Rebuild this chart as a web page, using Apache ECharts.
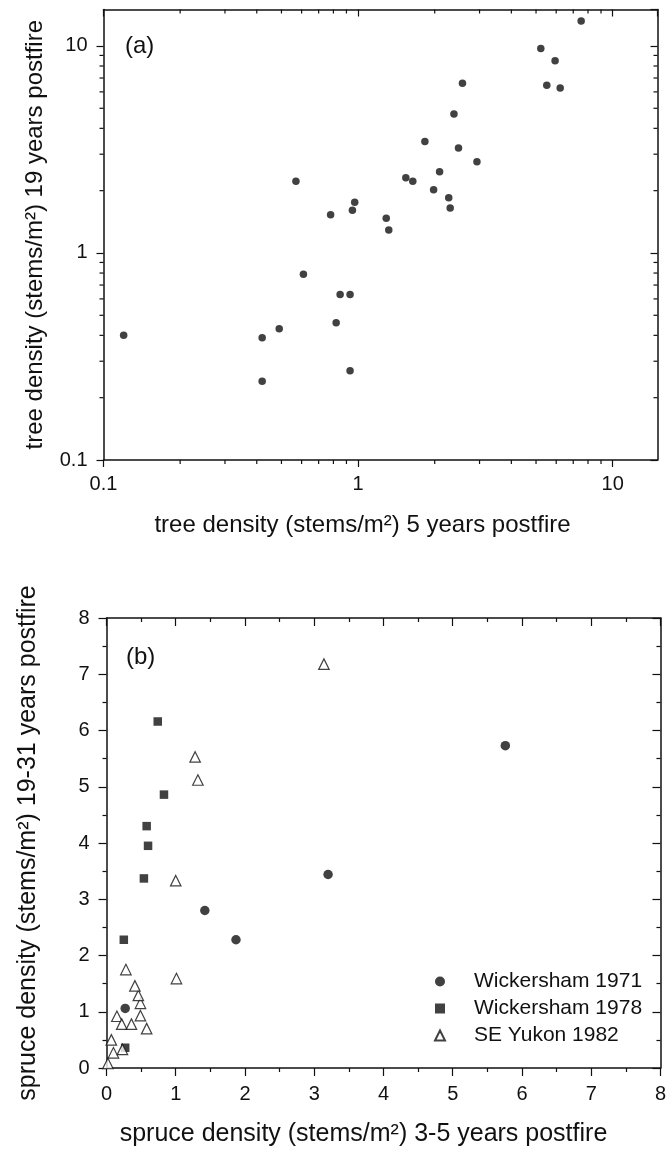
<!DOCTYPE html>
<html>
<head>
<meta charset="utf-8">
<script src="https://cdn.jsdelivr.net/npm/echarts@6/dist/echarts.min.js"></script>
<style>
  html, body { margin: 0; padding: 0; background: #fff; }
  #chart { width: 669px; height: 1154px; }
</style>
</head>
<body>
<div id="chart"></div>
<script>
// ---------- Panel (a): tree density, log-log ----------
const treeDensity5yr  = [0.12, 0.42, 0.42, 0.49, 0.57, 0.61, 0.78, 0.82, 0.85, 0.93, 0.93, 0.95, 0.97, 1.29, 1.32, 1.54, 1.64, 1.83, 1.98, 2.09, 2.27, 2.30, 2.38, 2.48, 2.57, 2.93, 5.22, 5.51, 5.94, 6.22, 7.52];
const treeDensity19yr = [0.40, 0.39, 0.24, 0.43, 2.22, 0.79, 1.53, 0.46, 0.63, 0.63, 0.27, 1.61, 1.76, 1.47, 1.29, 2.31, 2.22, 3.46, 2.02, 2.47, 1.85, 1.65, 4.69, 3.21, 6.60, 2.76, 9.71, 6.46, 8.49, 6.27, 13.2];
const logTickLabels = ['0.1', '1', '10'];
const logMinorTicks = [0.2, 0.3, 0.4, 0.5, 0.6, 0.7, 0.8, 0.9, 2, 3, 4, 5, 6, 7, 8, 9];

// ---------- Panel (b): spruce density, linear ----------
const wick1971X = [0.27, 1.42, 1.87, 3.20, 5.76];
const wick1971Y = [1.06, 2.80, 2.28, 3.44, 5.73];
const wick1978X = [0.27, 0.25, 0.54, 0.60, 0.58, 0.83, 0.74];
const wick1978Y = [0.36, 2.28, 3.37, 3.95, 4.30, 4.86, 6.16];
const yukon1982X = [0.02, 0.10, 0.23, 0.07, 0.15, 0.22, 0.36, 0.58, 0.49, 0.49, 0.46, 0.41, 0.28, 1.01, 1.00, 1.28, 1.32, 3.14];
const yukon1982Y = [0.08, 0.27, 0.33, 0.50, 0.92, 0.78, 0.78, 0.70, 0.93, 1.15, 1.29, 1.46, 1.75, 1.59, 3.33, 5.53, 5.12, 7.18];
const linTickLabels = ['0', '1', '2', '3', '4', '5', '6', '7', '8'];
const seriesNames = ['Wickersham 1971', 'Wickersham 1978', 'SE Yukon 1982'];

const FONT = 'Liberation Sans, Arial, Helvetica, sans-serif';
const INK = '#111';
const A_MIN = 0.1, A_MAX = 15;

const zip = (xs, ys) => xs.map((x, i) => [x, ys[i]]);

const gridA = { left: 103.5, top: 9.5, width: 554, height: 450.5 };
const gridB = { left: 106.5, top: 618, width: 560, height: 450 };

function logAxis(pos, gridIndex, show) {
  const isX = pos === 'bottom' || pos === 'top';
  return {
    type: 'log', logBase: 10, gridIndex, position: pos,
    min: A_MIN, max: A_MAX,
    axisLine: { show: true, onZero: false, lineStyle: { color: INK, width: 1.5 } },
    axisTick: { show: true, inside: (pos === 'top' || pos === 'right'), length: 7, lineStyle: { color: INK, width: 1.2 } },
    axisLabel: {
      show: show, fontFamily: FONT, fontSize: 20, color: INK,
      margin: isX ? 14 : 16, showMaxLabel: false,
      formatter: v => { const s = String(+v.toPrecision(3)); return logTickLabels.indexOf(s) >= 0 ? s : ''; }
    },
    splitLine: { show: false }
  };
}
function linAxis(pos, gridIndex, show) {
  const isX = pos === 'bottom' || pos === 'top';
  return {
    type: 'value', gridIndex, position: pos,
    min: 0, max: 8, interval: 1,
    axisLine: { show: true, onZero: false, lineStyle: { color: INK, width: 1.5 } },
    axisTick: { show: true, inside: (pos === 'top' || pos === 'right'), length: 8, lineStyle: { color: INK, width: 1.2 } },
    minorTick: { show: true, splitNumber: 2, length: 4, lineStyle: { color: INK, width: 1.2 } },
    axisLabel: {
      show: show, fontFamily: FONT, fontSize: 20, color: INK, margin: isX ? 16 : 17,
      formatter: v => linTickLabels[Math.round(v)] || ''
    },
    splitLine: { show: false }
  };
}

const nameStyleA = { fontFamily: FONT, fontSize: 24, color: INK };
const nameStyleB = { fontFamily: FONT, fontSize: 25, color: INK };

const xAxes = [
  Object.assign(logAxis('bottom', 0, true), { name: 'tree density (stems/m²) 5 years postfire', nameLocation: 'middle', nameGap: 53,
    nameTextStyle: Object.assign({ padding: [0, 36, 0, 0] }, nameStyleA) }),
  logAxis('top', 0, false),
  Object.assign(linAxis('bottom', 1, true), { name: 'spruce density (stems/m²) 3-5 years postfire', nameLocation: 'middle', nameGap: 54,
    nameTextStyle: Object.assign({ padding: [0, 40, 0, 0] }, nameStyleB) }),
  linAxis('top', 1, false)
];
const yAxes = [
  Object.assign(logAxis('left', 0, true), { name: 'tree density (stems/m²) 19 years postfire', nameLocation: 'middle', nameGap: 56, nameTextStyle: nameStyleA }),
  logAxis('right', 0, false),
  Object.assign(linAxis('left', 1, true), { name: 'spruce density (stems/m²) 19-31 years postfire', nameLocation: 'middle', nameGap: 66, nameTextStyle: nameStyleB }),
  linAxis('right', 1, false)
];

// minor ticks for the log panel (bottom=1, top=2, left=3, right=4)
const minorTickData = [];
[1, 2, 3, 4].forEach(side => logMinorTicks.forEach(v => minorTickData.push([v, side])));

const TL = 4;
const minorTickSeries = {
  type: 'custom', xAxisIndex: 0, yAxisIndex: 0, clip: false, silent: true, z: 5,
  data: minorTickData,
  renderItem: (params, api) => {
    const v = api.value(0), s = api.value(1);
    let p1, p2;
    if (s === 1) { const p = api.coord([v, A_MIN]); p1 = p; p2 = [p[0], p[1] + TL]; }
    else if (s === 2) { const p = api.coord([v, A_MAX]); p1 = p; p2 = [p[0], p[1] + TL]; }
    else if (s === 3) { const p = api.coord([A_MIN, v]); p1 = [p[0] - TL, p[1]]; p2 = p; }
    else { const p = api.coord([A_MAX, v]); p1 = [p[0] - TL, p[1]]; p2 = p; }
    return { type: 'line', shape: { x1: p1[0], y1: p1[1], x2: p2[0], y2: p2[1] }, style: { stroke: INK, lineWidth: 1.2 } };
  }
};

const option = {
  animation: false,
  backgroundColor: '#fff',
  grid: [gridA, gridB],
  xAxis: xAxes,
  yAxis: yAxes,
  legend: {
    data: seriesNames,
    orient: 'vertical',
    left: 434, top: 971,
    padding: 0,
    itemWidth: 10, itemHeight: 10, itemGap: 6,
    formatter: name => '{g|}' + name,
    textStyle: { fontFamily: FONT, fontSize: 21, color: INK, lineHeight: 20, rich: { g: { width: 24 } } },
    selectedMode: false
  },
  graphic: [
    { type: 'text', left: 125, top: 34, style: { text: '(a)', font: '24px ' + FONT, fill: INK } },
    { type: 'text', left: 126, top: 645, style: { text: '(b)', font: '24px ' + FONT, fill: INK } }
  ],
  series: [
    minorTickSeries,
    { type: 'scatter', name: 'tree', xAxisIndex: 0, yAxisIndex: 0, symbol: 'circle', symbolSize: 7.5,
      itemStyle: { color: INK }, data: zip(treeDensity5yr, treeDensity19yr) },
    { type: 'scatter', name: seriesNames[0], xAxisIndex: 2, yAxisIndex: 2, symbol: 'circle', symbolSize: 9.5,
      itemStyle: { color: INK }, data: zip(wick1971X, wick1971Y) },
    { type: 'scatter', name: seriesNames[1], xAxisIndex: 2, yAxisIndex: 2, symbol: 'rect', symbolSize: 8.5,
      itemStyle: { color: INK }, data: zip(wick1978X, wick1978Y) },
    { type: 'scatter', name: seriesNames[2], xAxisIndex: 2, yAxisIndex: 2, symbol: 'triangle', symbolSize: 10.5,
      itemStyle: { color: '#fff', borderColor: INK, borderWidth: 1.2 }, data: zip(yukon1982X, yukon1982Y) }
  ]
};

const chart = echarts.init(document.getElementById('chart'), null, { renderer: 'canvas' });
chart.setOption(option);
</script>
</body>
</html>
